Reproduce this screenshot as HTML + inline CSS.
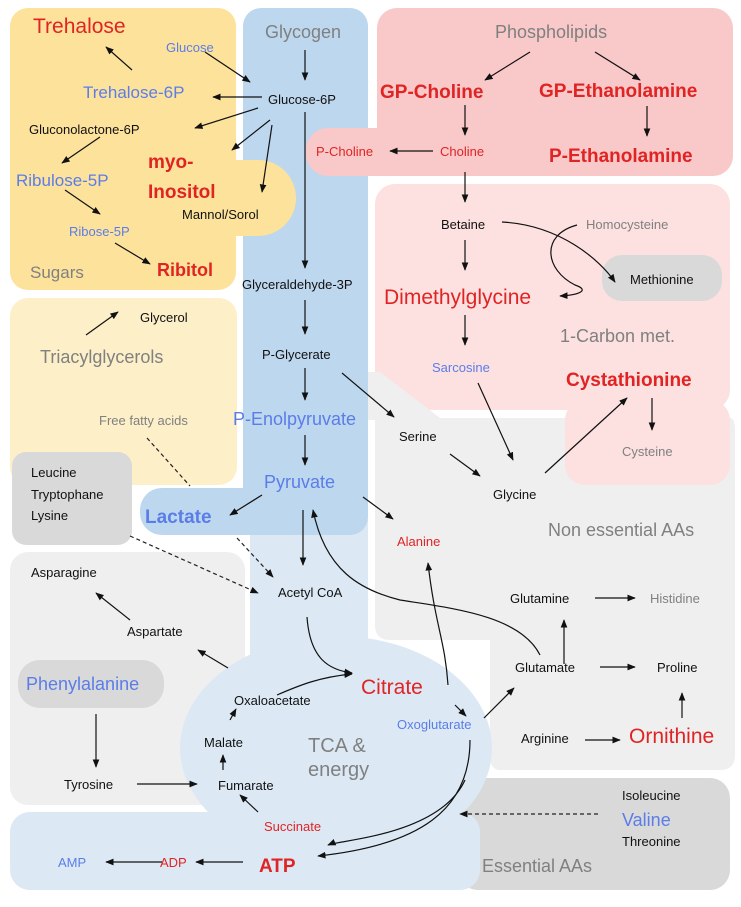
<!DOCTYPE html>
<html><head><meta charset="utf-8"><style>
html,body{margin:0;padding:0;background:#fff;}
svg text{font-family:"Liberation Sans",sans-serif;}
</style></head><body>
<svg width="741" height="902" viewBox="0 0 741 902" xmlns="http://www.w3.org/2000/svg">
<defs>
<marker id="a" viewBox="0 0 10 10" refX="9" refY="5" markerWidth="7" markerHeight="7" orient="auto-start-reverse"><path d="M0,1 L10,5 L0,9 z" fill="#111"/></marker>
</defs>
<rect x="10" y="8" width="226" height="282" rx="18" fill="#fde29b"/>
<rect x="10" y="298" width="227" height="187" rx="18" fill="#fdefc8"/>
<rect x="377" y="8" width="356" height="168" rx="20" fill="#f9c8c8"/>
<rect x="375" y="184" width="355" height="226" rx="20" fill="#fde0e0"/>
<path d="M368,372 L380,372 L440,418 L730,418 Q735,418 735,430 L735,755 Q735,770 720,770 L500,770 Q490,770 490,755 L490,640 L390,640 Q375,640 375,625 L375,420 L368,420 Z" fill="#efefef"/>
<rect x="565" y="400" width="165" height="85" rx="20" fill="#fde0e0"/>
<rect x="10" y="552" width="235" height="253" rx="18" fill="#efefef"/>
<rect x="12" y="452" width="120" height="93" rx="14" fill="#d9d9d9"/>
<rect x="18" y="660" width="146" height="48" rx="22" fill="#d9d9d9"/>
<rect x="602" y="255" width="120" height="46" rx="20" fill="#d9d9d9"/>
<rect x="458" y="778" width="272" height="112" rx="20" fill="#d9d9d9"/>
<rect x="250" y="520" width="118" height="170" fill="#dce9f5"/>
<ellipse cx="336" cy="748" rx="156" ry="112" fill="#dce9f5"/>
<rect x="10" y="812" width="470" height="78" rx="20" fill="#dce9f5"/>
<rect x="243" y="8" width="125" height="527" rx="18" fill="#bdd7ee"/>
<rect x="140" y="488" width="228" height="47" rx="22" fill="#bdd7ee"/>
<rect x="200" y="160" width="96" height="76" rx="38" fill="#fde29b"/>
<rect x="180" y="160" width="60" height="76" fill="#fde29b"/>
<rect x="306" y="128" width="200" height="48" rx="22" fill="#f9c8c8"/>

<g fill="none" stroke="#111" stroke-width="1.2" marker-end="url(#a)">
<line x1="305" y1="50" x2="305" y2="80"/>
<line x1="205" y1="52" x2="250" y2="82"/>
<line x1="262" y1="97" x2="213" y2="97"/>
<line x1="258" y1="108" x2="195" y2="128"/>
<line x1="132" y1="70" x2="106" y2="47"/>
<line x1="100" y1="137" x2="62" y2="163"/>
<line x1="65" y1="190" x2="100" y2="214"/>
<line x1="115" y1="243" x2="150" y2="264"/>
<line x1="270" y1="120" x2="232" y2="150"/>
<line x1="272" y1="125" x2="262" y2="192"/>
<line x1="305" y1="112" x2="305" y2="268"/>
<line x1="305" y1="300" x2="305" y2="334"/>
<line x1="305" y1="368" x2="305" y2="400"/>
<line x1="342" y1="373" x2="394" y2="417"/>
<line x1="305" y1="435" x2="305" y2="465"/>
<line x1="262" y1="495" x2="230" y2="515"/>
<line x1="363" y1="497" x2="393" y2="519"/>
<line x1="303" y1="510" x2="303" y2="565"/>
<line x1="86" y1="335" x2="118" y2="312"/>
<line x1="450" y1="454" x2="480" y2="476"/>
<line x1="478" y1="383" x2="513" y2="460"/>
<line x1="545" y1="473" x2="627" y2="398"/>
<line x1="652" y1="398" x2="652" y2="430"/>
<line x1="465" y1="240" x2="465" y2="270"/>
<line x1="465" y1="315" x2="465" y2="345"/>
<line x1="465" y1="105" x2="465" y2="135"/>
<line x1="465" y1="172" x2="465" y2="202"/>
<line x1="433" y1="151" x2="390" y2="151"/>
<line x1="595" y1="52" x2="640" y2="80"/>
<line x1="530" y1="52" x2="485" y2="80"/>
<line x1="647" y1="106" x2="647" y2="136"/>
<path d="M502,222 C560,225 600,260 615,282"/>
<path d="M577,225 C540,235 545,270 575,285 C590,290 580,295 560,296" />
<line x1="130" y1="620" x2="96" y2="593"/>
<line x1="228" y1="668" x2="198" y2="650"/>
<line x1="96" y1="714" x2="96" y2="767"/>
<line x1="137" y1="784" x2="197" y2="784"/>
<line x1="223" y1="770" x2="223" y2="755"/>
<line x1="230" y1="720" x2="236" y2="709"/>
<line x1="258" y1="812" x2="240" y2="795"/>
<path d="M307,617 C310,660 330,670 352,673"/>
<path d="M277,695 C300,685 320,677 352,674"/>
<line x1="455" y1="705" x2="466" y2="716"/>
<line x1="484" y1="718" x2="514" y2="688"/>
<path d="M470,740 C470,810 420,845 318,856"/>
<path d="M465,780 C440,835 340,840 328,845"/>
<line x1="162" y1="862" x2="106" y2="862"/>
<line x1="243" y1="862" x2="196" y2="862"/>
<line x1="564" y1="664" x2="564" y2="620"/>
<line x1="600" y1="667" x2="635" y2="667"/>
<line x1="595" y1="598" x2="635" y2="598"/>
<line x1="585" y1="740" x2="620" y2="740"/>
<line x1="682" y1="718" x2="682" y2="693"/>
<path d="M540,655 C520,615 450,608 400,600 C360,590 325,570 313,510"/>
<path d="M448,685 C445,640 435,625 428,563"/>
</g>
<g fill="none" stroke="#222" stroke-width="1.2" stroke-dasharray="4,3" marker-end="url(#a)">
<line x1="147" y1="438" x2="190" y2="486" marker-end="none"/>
<line x1="237" y1="538" x2="273" y2="577"/>
<line x1="130" y1="536" x2="258" y2="593"/>
<line x1="598" y1="814" x2="460" y2="814"/>
</g>

<g font-size="13" fill="#111">
<text x="268" y="104">Glucose-6P</text>
<text x="29" y="134">Gluconolactone-6P</text>
<text x="182" y="219">Mannol/Sorol</text>
<text x="242" y="289">Glyceraldehyde-3P</text>
<text x="262" y="359">P-Glycerate</text>
<text x="399" y="441">Serine</text>
<text x="493" y="499">Glycine</text>
<text x="140" y="322">Glycerol</text>
<text x="31" y="477">Leucine</text>
<text x="31" y="499">Tryptophane</text>
<text x="31" y="520">Lysine</text>
<text x="278" y="597">Acetyl CoA</text>
<text x="31" y="577">Asparagine</text>
<text x="127" y="636">Aspartate</text>
<text x="234" y="705">Oxaloacetate</text>
<text x="204" y="747">Malate</text>
<text x="218" y="790">Fumarate</text>
<text x="64" y="789">Tyrosine</text>
<text x="441" y="229">Betaine</text>
<text x="630" y="284">Methionine</text>
<text x="510" y="603">Glutamine</text>
<text x="515" y="672">Glutamate</text>
<text x="657" y="672">Proline</text>
<text x="521" y="743">Arginine</text>
<text x="622" y="800">Isoleucine</text>
<text x="622" y="846">Threonine</text>
</g>
<g fill="#5b7de8">
<text x="166" y="52" font-size="13">Glucose</text>
<text x="83" y="98" font-size="17">Trehalose-6P</text>
<text x="16" y="186" font-size="17">Ribulose-5P</text>
<text x="69" y="236" font-size="13">Ribose-5P</text>
<text x="233" y="425" font-size="18">P-Enolpyruvate</text>
<text x="264" y="488" font-size="18">Pyruvate</text>
<text x="145" y="523" font-size="19" font-weight="bold">Lactate</text>
<text x="432" y="372" font-size="13">Sarcosine</text>
<text x="26" y="690" font-size="18">Phenylalanine</text>
<text x="397" y="729" font-size="13">Oxoglutarate</text>
<text x="58" y="867" font-size="13">AMP</text>
<text x="622" y="826" font-size="18">Valine</text>
</g>
<g fill="#e02424">
<text x="33" y="33" font-size="21">Trehalose</text>
<text x="148" y="168" font-size="19" font-weight="bold">myo-</text>
<text x="148" y="198" font-size="19" font-weight="bold">Inositol</text>
<text x="157" y="276" font-size="18" font-weight="bold">Ribitol</text>
<text x="380" y="98" font-size="19" font-weight="bold">GP-Choline</text>
<text x="539" y="97" font-size="19" font-weight="bold">GP-Ethanolamine</text>
<text x="549" y="162" font-size="19" font-weight="bold">P-Ethanolamine</text>
<text x="316" y="156" font-size="13">P-Choline</text>
<text x="440" y="156" font-size="13">Choline</text>
<text x="384" y="304" font-size="21">Dimethylglycine</text>
<text x="566" y="386" font-size="19" font-weight="bold">Cystathionine</text>
<text x="397" y="546" font-size="13">Alanine</text>
<text x="361" y="694" font-size="21">Citrate</text>
<text x="264" y="831" font-size="13">Succinate</text>
<text x="160" y="867" font-size="13">ADP</text>
<text x="259" y="872" font-size="19" font-weight="bold">ATP</text>
<text x="629" y="743" font-size="21">Ornithine</text>
</g>
<g fill="#808080">
<text x="265" y="38" font-size="18">Glycogen</text>
<text x="495" y="38" font-size="18">Phospholipids</text>
<text x="30" y="278" font-size="17">Sugars</text>
<text x="40" y="363" font-size="18">Triacylglycerols</text>
<text x="99" y="425" font-size="13">Free fatty acids</text>
<text x="586" y="229" font-size="13">Homocysteine</text>
<text x="560" y="342" font-size="18">1-Carbon met.</text>
<text x="622" y="456" font-size="13">Cysteine</text>
<text x="548" y="536" font-size="18">Non essential AAs</text>
<text x="650" y="603" font-size="13">Histidine</text>
<text x="308" y="752" font-size="20">TCA &amp;</text>
<text x="308" y="776" font-size="20">energy</text>
<text x="482" y="872" font-size="18">Essential AAs</text>
</g>
</svg>
</body></html>
